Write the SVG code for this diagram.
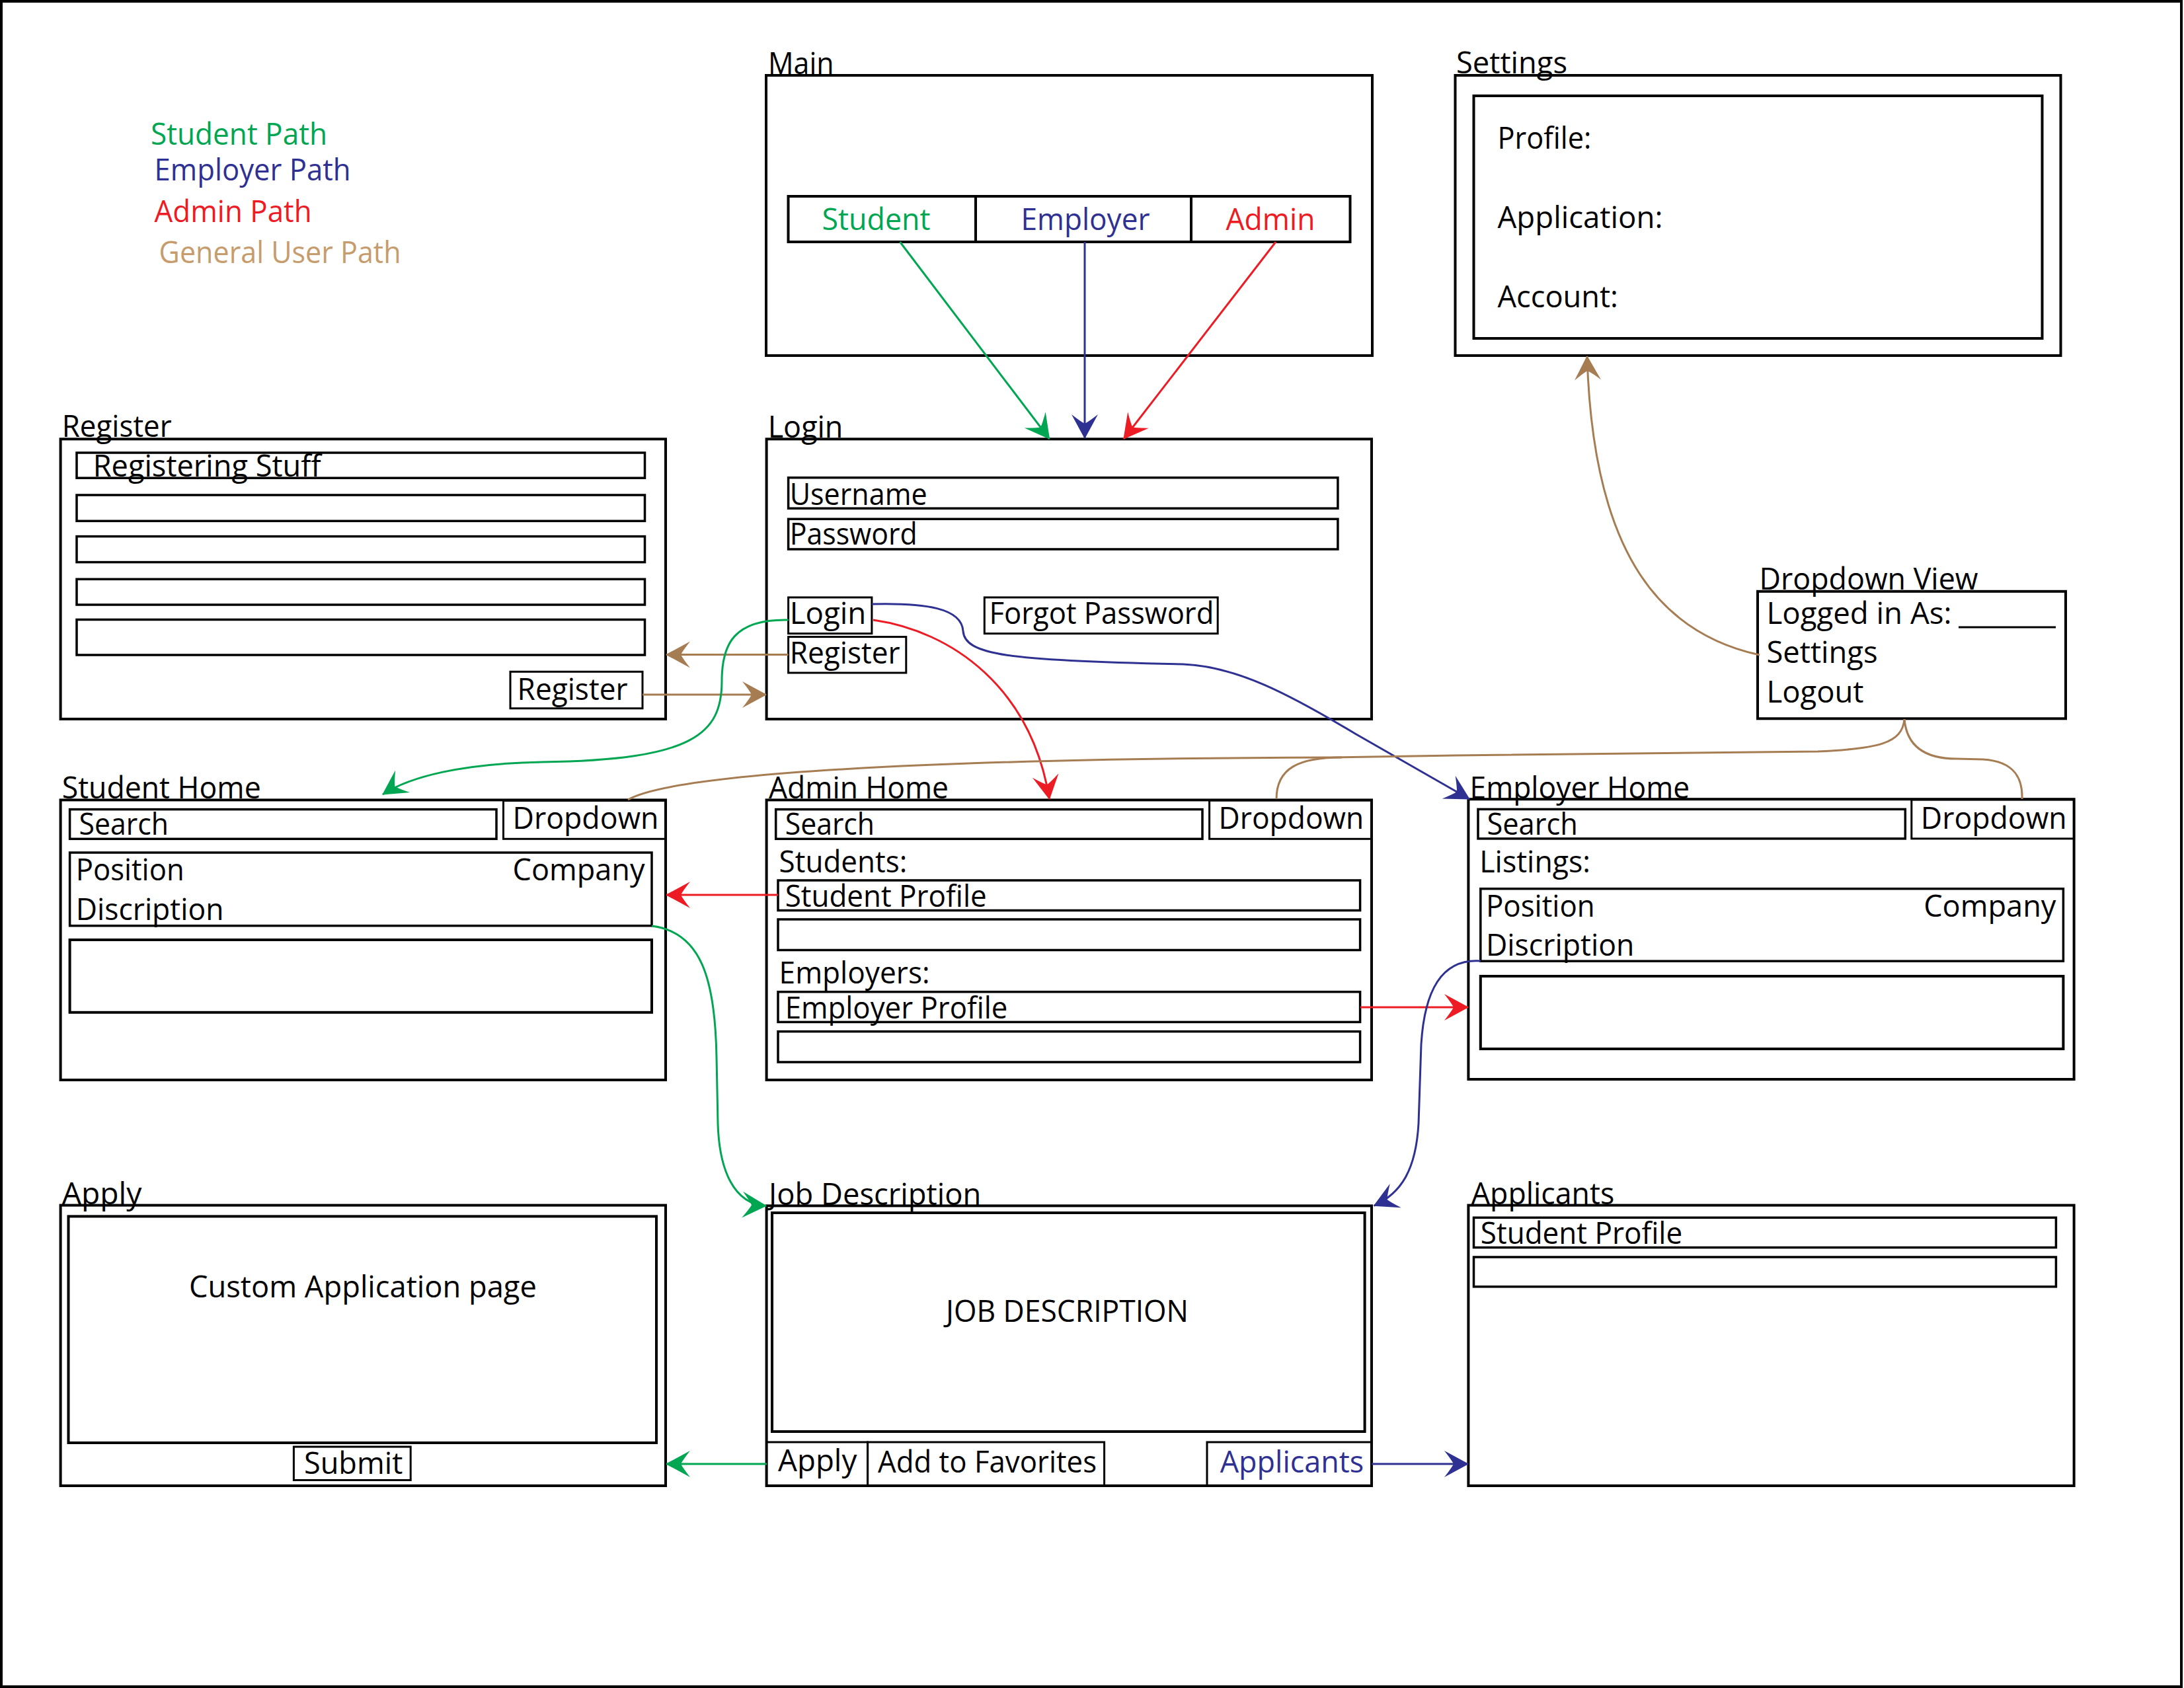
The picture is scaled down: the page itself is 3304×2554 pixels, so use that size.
<svg xmlns="http://www.w3.org/2000/svg" width="3304" height="2554" viewBox="0 0 3304 2554">
  <style>
    .frame { fill: #fff; stroke: #000; stroke-width: 4; }
    .box { fill: none; stroke: #000; stroke-width: 4; }
    .fld { fill: none; stroke: #000; stroke-width: 3.5; }
    .btn { fill: none; stroke: #000; stroke-width: 3; }
    text { font-family: "Open Sans", "Noto Sans", sans-serif; font-size: 46px; fill: #000; }
    .g { fill: #00A651; }
    .b { fill: #2E3192; }
    .r { fill: #ED1C24; }
    .tan { fill: #C69C6D; }
    .c { fill: none; stroke-width: 3; }
    .cg { stroke: #00A651; }
    .cb { stroke: #2E3192; }
    .cr { stroke: #ED1C24; }
    .cn { stroke: #A67C52; }
  </style>
  <defs>
    <marker id="ah-g" markerUnits="userSpaceOnUse" viewBox="-40 -22 44 44" refX="0" refY="0" markerWidth="44" markerHeight="44" orient="auto">
      <path d="M1,0 L-36,-20 Q-25,-6 -22,0 Q-25,6 -36,20 Z" fill="#00A651"/>
    </marker>
    <marker id="ah-b" markerUnits="userSpaceOnUse" viewBox="-40 -22 44 44" refX="0" refY="0" markerWidth="44" markerHeight="44" orient="auto">
      <path d="M1,0 L-36,-20 Q-25,-6 -22,0 Q-25,6 -36,20 Z" fill="#2E3192"/>
    </marker>
    <marker id="ah-r" markerUnits="userSpaceOnUse" viewBox="-40 -22 44 44" refX="0" refY="0" markerWidth="44" markerHeight="44" orient="auto">
      <path d="M1,0 L-36,-20 Q-25,-6 -22,0 Q-25,6 -36,20 Z" fill="#ED1C24"/>
    </marker>
    <marker id="ah-n" markerUnits="userSpaceOnUse" viewBox="-40 -22 44 44" refX="0" refY="0" markerWidth="44" markerHeight="44" orient="auto">
      <path d="M1,0 L-36,-20 Q-25,-6 -22,0 Q-25,6 -36,20 Z" fill="#A67C52"/>
    </marker>
  </defs>

  <rect class="frame" x="2" y="2" width="3298" height="2550"/>

  <!-- legend -->
  <g id="legend">
    <text class="g" x="228" y="219" textLength="267" lengthAdjust="spacingAndGlyphs">Student Path</text>
    <text class="b" x="233.6" y="272.5" textLength="297" lengthAdjust="spacingAndGlyphs">Employer Path</text>
    <text class="r" x="233.6" y="335.6" textLength="238" lengthAdjust="spacingAndGlyphs">Admin Path</text>
    <text class="tan" x="240.6" y="398" textLength="366" lengthAdjust="spacingAndGlyphs">General User Path</text>
  </g>

  <!-- Main -->
  <g id="main">
    <rect class="box" x="1159" y="114" width="917" height="424"/>
    <text x="1162" y="112" textLength="99.5" lengthAdjust="spacingAndGlyphs">Main</text>
    <rect class="box" x="1192.5" y="297" width="850" height="69"/>
    <line class="box" x1="1476" y1="297" x2="1476" y2="366"/>
    <line class="box" x1="1802" y1="297" x2="1802" y2="366"/>
    <text class="g" x="1243.5" y="348" textLength="164" lengthAdjust="spacingAndGlyphs">Student</text>
    <text class="b" x="1544.5" y="348" textLength="195" lengthAdjust="spacingAndGlyphs">Employer</text>
    <text class="r" x="1854.5" y="348" textLength="135" lengthAdjust="spacingAndGlyphs">Admin</text>
  </g>

  <!-- Settings -->
  <g id="settings">
    <rect class="box" x="2201.5" y="114" width="916" height="424"/>
    <rect class="box" x="2229.5" y="145" width="860" height="367"/>
    <text x="2203" y="111" textLength="168" lengthAdjust="spacingAndGlyphs">Settings</text>
    <text x="2265.5" y="224.5" textLength="142" lengthAdjust="spacingAndGlyphs">Profile:</text>
    <text x="2265.5" y="345" textLength="250" lengthAdjust="spacingAndGlyphs">Application:</text>
    <text x="2265.5" y="465" textLength="182.5" lengthAdjust="spacingAndGlyphs">Account:</text>
  </g>

  <!-- Register -->
  <g id="register">
    <rect class="box" x="91.6" y="664.3" width="915.4" height="423.6"/>
    <text x="93.7" y="661" textLength="166" lengthAdjust="spacingAndGlyphs">Register</text>
    <rect class="fld" x="116" y="685" width="859.5" height="38.2"/>
    <text x="140.7" y="720.5" textLength="345" lengthAdjust="spacingAndGlyphs">Registering Stuff</text>
    <rect class="fld" x="116" y="749" width="859.5" height="39.3"/>
    <rect class="fld" x="116" y="811.6" width="859.5" height="39"/>
    <rect class="fld" x="116" y="876.3" width="859.5" height="38.7"/>
    <rect class="fld" x="116" y="937.5" width="859.5" height="53.5"/>
    <rect class="btn" x="772" y="1016.3" width="200" height="55.5"/>
    <text x="782.6" y="1059" textLength="167" lengthAdjust="spacingAndGlyphs">Register</text>
  </g>

  <!-- Login -->
  <g id="login">
    <rect class="box" x="1159.6" y="664.3" width="915.4" height="423.7"/>
    <text x="1161.7" y="662" textLength="113.7" lengthAdjust="spacingAndGlyphs">Login</text>
    <rect class="fld" x="1192.6" y="722.7" width="831.3" height="46.5"/>
    <text x="1194.7" y="763.8" textLength="208" lengthAdjust="spacingAndGlyphs">Username</text>
    <rect class="fld" x="1192.6" y="785.3" width="831.3" height="45.7"/>
    <text x="1194.7" y="824" textLength="193" lengthAdjust="spacingAndGlyphs">Password</text>
    <rect class="btn" x="1192.6" y="903.9" width="126.3" height="54.7"/>
    <text x="1194.7" y="944" textLength="115.7" lengthAdjust="spacingAndGlyphs">Login</text>
    <rect class="btn" x="1192.6" y="963.6" width="178.2" height="54.4"/>
    <text x="1194.7" y="1004" textLength="167" lengthAdjust="spacingAndGlyphs">Register</text>
    <rect class="btn" x="1489.3" y="903.9" width="352.9" height="54.7"/>
    <text x="1496.4" y="944" textLength="340" lengthAdjust="spacingAndGlyphs">Forgot Password</text>
  </g>

  <!-- Dropdown View -->
  <g id="dropdown-view">
    <rect class="box" x="2659" y="894.8" width="466" height="192.5"/>
    <text x="2661.5" y="892" textLength="331" lengthAdjust="spacingAndGlyphs">Dropdown View</text>
    <text x="2672.5" y="943.6" textLength="280" lengthAdjust="spacingAndGlyphs">Logged in As:</text>
    <line x1="2963" y1="949" x2="3110" y2="949" stroke="#000" stroke-width="3"/>
    <text x="2672.5" y="1003" textLength="168" lengthAdjust="spacingAndGlyphs">Settings</text>
    <text x="2672.5" y="1063" textLength="147" lengthAdjust="spacingAndGlyphs">Logout</text>
  </g>

  <!-- Student Home -->
  <g id="student-home">
    <rect class="box" x="91.6" y="1210.4" width="915.4" height="423.6"/>
    <text x="93.7" y="1208" textLength="301" lengthAdjust="spacingAndGlyphs">Student Home</text>
    <rect class="fld" x="105.6" y="1224.6" width="645.4" height="44.7"/>
    <text x="119.6" y="1263" textLength="135.4" lengthAdjust="spacingAndGlyphs">Search</text>
    <rect class="btn" x="761.5" y="1211.4" width="245.5" height="57.9"/>
    <text x="775.5" y="1254" textLength="221" lengthAdjust="spacingAndGlyphs">Dropdown</text>
    <rect class="fld" x="105.6" y="1290" width="880.4" height="110.7"/>
    <text x="114.7" y="1332" textLength="164" lengthAdjust="spacingAndGlyphs">Position</text>
    <text x="775.5" y="1332" textLength="200" lengthAdjust="spacingAndGlyphs">Company</text>
    <text x="114.7" y="1392" textLength="223.8" lengthAdjust="spacingAndGlyphs">Discription</text>
    <rect class="box" x="105.6" y="1422" width="880.4" height="109.8"/>
  </g>

  <!-- Admin Home -->
  <g id="admin-home">
    <rect class="box" x="1159.6" y="1210.4" width="915.4" height="423.6"/>
    <text x="1163" y="1208" textLength="272" lengthAdjust="spacingAndGlyphs">Admin Home</text>
    <rect class="fld" x="1173.7" y="1224.6" width="645.3" height="44.7"/>
    <text x="1187.7" y="1263" textLength="135.4" lengthAdjust="spacingAndGlyphs">Search</text>
    <rect class="btn" x="1829.6" y="1211" width="245.4" height="58.3"/>
    <text x="1843.6" y="1254" textLength="219.6" lengthAdjust="spacingAndGlyphs">Dropdown</text>
    <text x="1178.6" y="1320.4" textLength="193.6" lengthAdjust="spacingAndGlyphs">Students:</text>
    <rect class="fld" x="1177" y="1332" width="880.6" height="45.5"/>
    <text x="1187.7" y="1372" textLength="305" lengthAdjust="spacingAndGlyphs">Student Profile</text>
    <rect class="fld" x="1177" y="1391" width="880.6" height="46.5"/>
    <text x="1178.6" y="1488" textLength="228" lengthAdjust="spacingAndGlyphs">Employers:</text>
    <rect class="fld" x="1177" y="1500.7" width="880.6" height="45.7"/>
    <text x="1187.7" y="1540.7" textLength="336.7" lengthAdjust="spacingAndGlyphs">Employer Profile</text>
    <rect class="fld" x="1177" y="1560.7" width="880.6" height="46.3"/>
  </g>

  <!-- Employer Home -->
  <g id="employer-home">
    <rect class="box" x="2221.4" y="1209.2" width="916.2" height="423.8"/>
    <text x="2223.6" y="1207.6" textLength="332.6" lengthAdjust="spacingAndGlyphs">Employer Home</text>
    <rect class="fld" x="2236" y="1224.4" width="646.3" height="44.5"/>
    <text x="2249.4" y="1263.4" textLength="137.6" lengthAdjust="spacingAndGlyphs">Search</text>
    <rect class="btn" x="2891.8" y="1210" width="245.8" height="58.9"/>
    <text x="2905.8" y="1253.7" textLength="220.8" lengthAdjust="spacingAndGlyphs">Dropdown</text>
    <text x="2238.3" y="1319.8" textLength="167.8" lengthAdjust="spacingAndGlyphs">Listings:</text>
    <rect class="fld" x="2239.8" y="1344.7" width="881.6" height="109.5"/>
    <text x="2247.9" y="1386.5" textLength="164.8" lengthAdjust="spacingAndGlyphs">Position</text>
    <text x="2910.2" y="1386.5" textLength="200.2" lengthAdjust="spacingAndGlyphs">Company</text>
    <text x="2247.9" y="1446" textLength="224.5" lengthAdjust="spacingAndGlyphs">Discription</text>
    <rect class="box" x="2239.8" y="1477" width="881.6" height="110"/>
  </g>

  <!-- Apply -->
  <g id="apply">
    <rect class="box" x="91.6" y="1823.6" width="915.4" height="424.4"/>
    <text x="93.7" y="1822" textLength="120.7" lengthAdjust="spacingAndGlyphs">Apply</text>
    <rect class="box" x="103.5" y="1840.4" width="889.5" height="342.6"/>
    <text x="285.9" y="1963.3" textLength="526" lengthAdjust="spacingAndGlyphs">Custom Application page</text>
    <rect class="btn" x="444.4" y="2189" width="176.8" height="50.5"/>
    <text x="459.9" y="2230" textLength="149.4" lengthAdjust="spacingAndGlyphs">Submit</text>
  </g>

  <!-- Job Description -->
  <g id="job-description">
    <rect class="box" x="1159.6" y="1824.4" width="915.4" height="423.6"/>
    <text x="1163" y="1822.5" textLength="321.3" lengthAdjust="spacingAndGlyphs">Job Description</text>
    <rect class="box" x="1168" y="1835" width="896.6" height="331"/>
    <text x="1431" y="2000.4" textLength="367" lengthAdjust="spacingAndGlyphs">JOB DESCRIPTION</text>
    <rect class="btn" x="1159.6" y="2182" width="153" height="66"/>
    <rect class="btn" x="1312.6" y="2182" width="358" height="66"/>
    <rect class="btn" x="1826" y="2182" width="249" height="66"/>
    <text x="1177" y="2226" textLength="119.3" lengthAdjust="spacingAndGlyphs">Apply</text>
    <text x="1328" y="2228" textLength="331" lengthAdjust="spacingAndGlyphs">Add to Favorites</text>
    <text class="b" x="1845.7" y="2228" textLength="217.5" lengthAdjust="spacingAndGlyphs">Applicants</text>
  </g>

  <!-- Applicants -->
  <g id="applicants">
    <rect class="box" x="2221.4" y="1823.6" width="916.2" height="424.4"/>
    <text x="2225.8" y="1821.7" textLength="216.4" lengthAdjust="spacingAndGlyphs">Applicants</text>
    <rect class="fld" x="2229.5" y="1842.3" width="880.9" height="45.2"/>
    <text x="2239.8" y="1881.8" textLength="305.4" lengthAdjust="spacingAndGlyphs">Student Profile</text>
    <rect class="fld" x="2229.5" y="1902" width="880.9" height="44.8"/>
  </g>

  <!-- connectors -->
  <g id="connectors">
    <!-- Main role buttons to Login -->
    <path class="c cg" d="M1361.5,366 L1587.5,664" marker-end="url(#ah-g)"/>
    <path class="c cb" d="M1641,366 L1641,663" marker-end="url(#ah-b)"/>
    <path class="c cr" d="M1930,366 L1700,664" marker-end="url(#ah-r)"/>

    <!-- Login / Register round trip -->
    <path class="c cn" d="M1192.6,990.5 L1008,990.5" marker-end="url(#ah-n)"/>
    <path class="c cn" d="M972,1051 L1159,1051" marker-end="url(#ah-n)"/>

    <!-- Login button to each home page -->
    <path class="c cg" d="M1193,938 C1110,936 1092,975 1092,1030 C1092,1110 1050,1150 820,1153 C700,1155 620,1175 579,1202" marker-end="url(#ah-g)"/>
    <path class="c cr" d="M1321,938 C1440,955 1560,1040 1587.5,1209" marker-end="url(#ah-r)"/>
    <path class="c cb" d="M1319,914 C1400,912 1455,920 1457,955 C1460,990 1520,1000 1790,1005 C1870,1008 1950,1050 2050,1110 L2223,1209" marker-end="url(#ah-b)"/>

    <!-- Dropdown buttons to Dropdown View -->
    <path class="c cn" d="M2881,1088 C2878,1125 2840,1133 2750,1137 L2200,1143 L2012,1146 C1400,1148 1020,1170 950,1210"/>
    <path class="c cn" d="M1931,1209 C1931,1162 1965,1146 2030,1146"/>
    <path class="c cn" d="M2881,1088 C2885,1135 2920,1148 2960,1148 L3000,1149 C3050,1152 3060,1180 3059,1209"/>

    <!-- Dropdown View Settings to Settings page -->
    <path class="c cn" d="M2662,991 C2520,960 2410,850 2401,539" marker-end="url(#ah-n)"/>

    <!-- Admin profile links -->
    <path class="c cr" d="M1177,1354 L1008,1354" marker-end="url(#ah-r)"/>
    <path class="c cr" d="M2058,1524 L2221,1524" marker-end="url(#ah-r)"/>

    <!-- Listings to Job Description -->
    <path class="c cg" d="M986,1401 C1060,1410 1082,1480 1084,1600 L1086,1700 C1088,1770 1110,1822 1159,1824.4" marker-end="url(#ah-g)"/>
    <path class="c cb" d="M2240,1454 C2180,1450 2155,1500 2150,1580 L2146,1700 C2142,1770 2120,1805 2078.6,1824.4" marker-end="url(#ah-b)"/>

    <!-- Job Description buttons -->
    <path class="c cg" d="M1160,2215 L1008,2215" marker-end="url(#ah-g)"/>
    <path class="c cb" d="M2075,2215 L2221,2215" marker-end="url(#ah-b)"/>
  </g>
</svg>
